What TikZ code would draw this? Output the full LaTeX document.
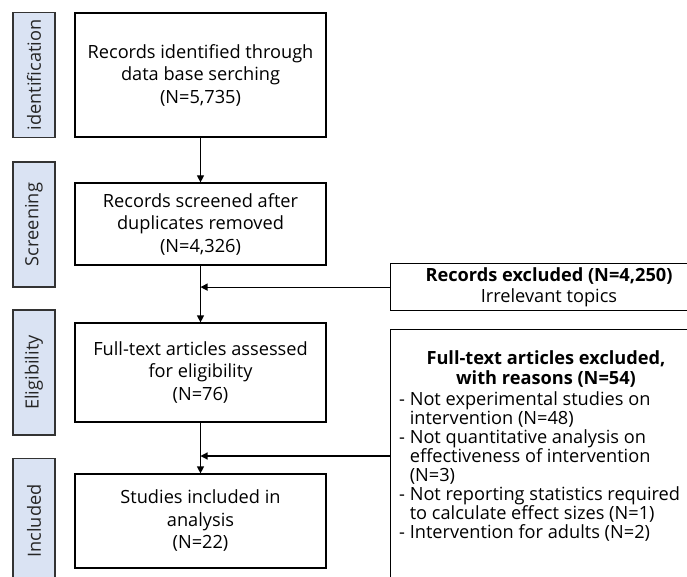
\documentclass[tikz,border=0pt]{standalone}
\usepackage{fontspec}
\setmainfont{Open Sans}
\usetikzlibrary{arrows.meta}
\definecolor{labfill}{RGB}{218,227,243}
\begin{document}
\begin{tikzpicture}[x=1pt,y=-1pt,
  box/.style={draw=black, line width=1.2pt, minimum width=251pt, align=center, inner sep=0pt, font=\fontsize{18.2}{22.5}\selectfont},
  phase/.style={draw=black!80, fill=labfill, line width=1.3pt, rotate=90, minimum width=125pt, minimum height=42pt, inner sep=0pt, font=\fontsize{18.2}{20}\selectfont, text=black!85},
  side/.style={draw=black, line width=1.2pt, minimum width=316pt, inner sep=0pt, anchor=north west},
  sidetxt/.style={inner sep=0pt, font=\fontsize{18.2}{21}\selectfont},
  arr/.style={line width=1.2pt, -{Triangle[length=7pt,width=7pt]}},
]
\path[use as bounding box, clip] (0,0) rectangle (687,577);
% phase labels
\node[phase] (pid) at (34,75) {identification};
\node[phase] (psc) at (34,224.5) {Screening};
\node[phase] (pel) at (34,372.5) {Eligibility};
\node[phase] (pin) at (34,521) {Included};
% main boxes
\node[box, minimum height=124pt] (b1) at (200.5,75) {Records identified through\\data base serching\\(N=5,735)};
\node[box, minimum height=82pt] (b2) at (200.5,224) {Records screened after\\duplicates removed\\(N=4,326)};
\node[box, minimum height=99pt] (b3) at (200.5,372.5) {Full-text articles assessed\\for eligibility\\(N=76)};
\node[box, minimum height=94pt] (b4) at (200.5,521) {Studies included in\\analysis\\(N=22)};
% exclusion boxes
\node[side, minimum height=47pt] (rex) at (390,263) {};
\node[sidetxt, align=center] (rext) at (549,287.5) {\textbf{Records excluded (N=4,250)}\\Irrelevant topics};
\node[side, minimum height=280pt] (fex) at (390,329) {};
\node[sidetxt, align=center, font=\fontsize{18.2}{20}\selectfont] (fext) at (546,369) {\textbf{Full-text articles excluded,}\\\textbf{with reasons (N=54)}};
\node[sidetxt, align=left, anchor=west, font=\fontsize{18.2}{19}\selectfont] (fexl) at (399,467) {- Not experimental studies on\\\phantom{- }intervention (N=48)\\- Not quantitative analysis on\\\phantom{- }effectiveness of intervention\\\phantom{- }(N=3)\\- Not reporting statistics required\\\phantom{- }to calculate effect sizes (N=1)\\- Intervention for adults (N=2)};
% connectors
\coordinate (j1) at (b2.south |- rex.west);
\coordinate (e2) at (390,456);
\coordinate (j2) at (b3.south |- e2);
\draw[arr] (b1) -- (b2);
\draw[arr] (b2) -- (b3);
\draw[arr] (rex.west) -- (j1);
\draw[arr] (b3) -- (b4);
\draw[arr] (e2) -- (j2);
\end{tikzpicture}
\end{document}
